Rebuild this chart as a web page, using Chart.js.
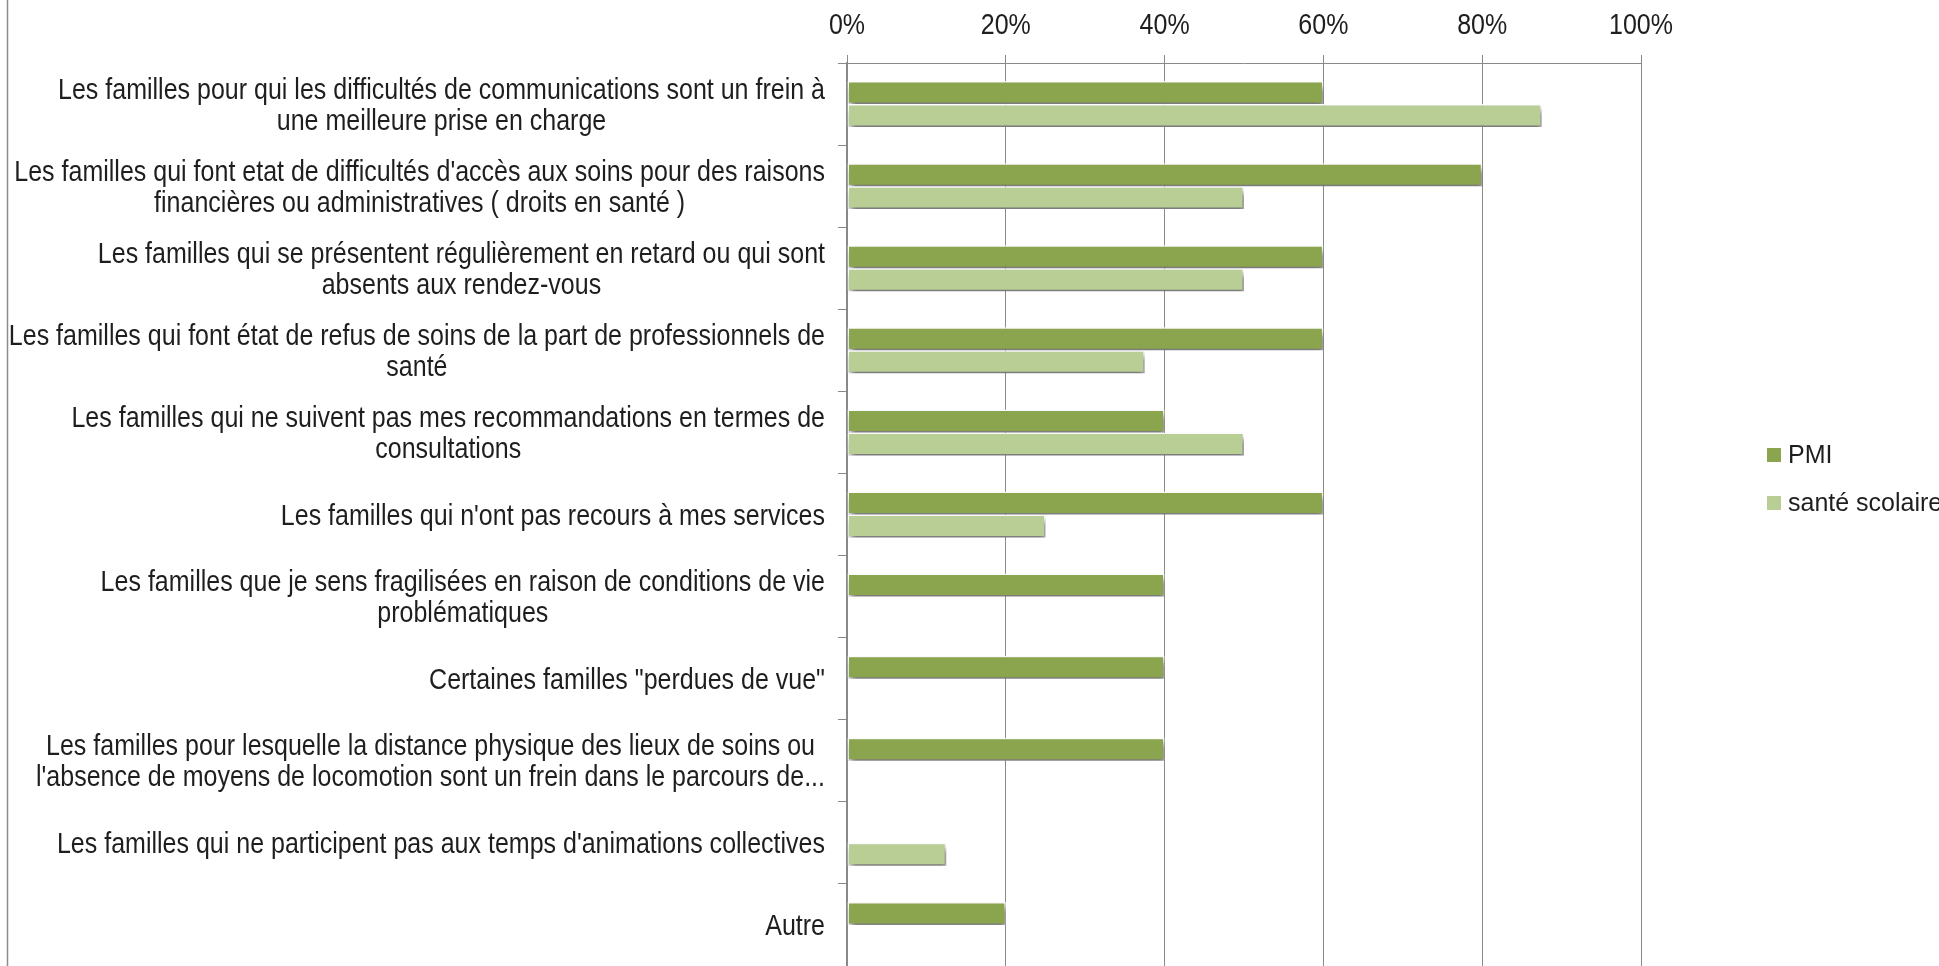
<!DOCTYPE html>
<html>
<head>
<meta charset="utf-8">
<script src="https://cdn.jsdelivr.net/npm/chart.js@4.4.1/dist/chart.umd.min.js"></script>
<style>
  html, body { margin: 0; padding: 0; background: #fff; }
  canvas { display: block; }
</style>
</head>
<body>
<canvas id="chart" width="1939" height="966"></canvas>
<script>
const categories = [
  ["Les familles pour qui les difficultés de communications sont un frein à", "une meilleure prise en charge"],
  ["Les familles qui font etat de difficultés d'accès aux soins pour des raisons", "financières ou administratives ( droits en santé )"],
  ["Les familles qui se présentent régulièrement en retard ou qui sont", "absents aux rendez-vous"],
  ["Les familles qui font état de refus de soins de la part de professionnels de", "santé"],
  ["Les familles qui ne suivent pas mes recommandations en termes de", "consultations"],
  "Les familles qui n'ont pas recours à mes services",
  ["Les familles que je sens fragilisées en raison de conditions de vie", "problématiques"],
  'Certaines familles "perdues de vue"',
  ["Les familles pour lesquelle la distance physique des lieux de soins ou", "l'absence de moyens de locomotion sont un frein dans le parcours de..."],
  "Les familles qui ne participent pas aux temps d'animations collectives",
  "Autre"
];
const pmi = [60, 80, 60, 60, 40, 60, 40, 40, 40, 0, 20];
const santeScolaire = [87.5, 50, 50, 37.5, 50, 25, 0, 0, 0, 12.5, 0];
const seriesNames = ["PMI", "santé scolaire"];
const xTicks = [0, 20, 40, 60, 80, 100];

const LABEL_FONT = '29px "Liberation Sans", Arial, sans-serif';
const TEXT = '#1e1e1e';
const GRID = '#898989';

// condensed look: squeeze the text horizontally so the first label is ~767px wide
function squeeze(ctx) {
  ctx.font = LABEL_FONT;
  return 767 / ctx.measureText(categories[0][0]).width;
}

// bar shadows like the original office chart
const shadowPlugin = {
  id: 'barShadow',
  beforeDatasetsDraw(chart) {
    const ctx = chart.ctx;
    ctx.save();
    ctx.shadowColor = 'rgba(0,0,0,0.55)';
    ctx.shadowBlur = 6;
    ctx.shadowOffsetX = 2;
    ctx.shadowOffsetY = 5;
  },
  afterDatasetsDraw(chart) {
    chart.ctx.restore();
  }
};

// axis texts: category block right-aligned with centred lines, % ticks on top
const labelPlugin = {
  id: 'axisTexts',
  afterDraw(chart) {
    const ctx = chart.ctx;
    const y = chart.scales.y;
    const x = chart.scales.x;
    ctx.save();
    const sx = squeeze(ctx);
    ctx.fillStyle = TEXT;
    ctx.textAlign = 'center';
    ctx.textBaseline = 'middle';
    chart.data.labels.forEach((lab, i) => {
      const lines = Array.isArray(lab) ? lab : [lab];
      const w = Math.max(...lines.map(l => ctx.measureText(l).width)) * sx;
      const cx = y.right - 22 - w / 2;
      const cy = y.getPixelForTick(i) + 2;
      lines.forEach((l, k) => {
        ctx.save();
        ctx.translate(cx, cy + (k - (lines.length - 1) / 2) * 31);
        ctx.scale(sx, 1);
        ctx.fillText(l, 0, 0);
        ctx.restore();
      });
    });
    xTicks.forEach(v => {
      ctx.save();
      ctx.translate(x.getPixelForValue(v), 26);
      ctx.scale(sx, 1);
      ctx.fillText(v + '%', 0, 0);
      ctx.restore();
    });
    ctx.restore();
  }
};

// legend and left frame line
const legendPlugin = {
  id: 'sideLegend',
  afterDraw(chart) {
    const ctx = chart.ctx;
    ctx.save();
    ctx.strokeStyle = '#8c8c8c';
    ctx.lineWidth = 1.5;
    ctx.beginPath();
    ctx.moveTo(7.5, 0);
    ctx.lineTo(7.5, chart.height);
    ctx.stroke();

    ctx.font = '25px "Liberation Sans", Arial, sans-serif';
    ctx.textBaseline = 'middle';
    ctx.textAlign = 'left';
    chart.data.datasets.forEach((ds, i) => {
      const yc = 455 + i * 48;
      ctx.fillStyle = ds.backgroundColor;
      ctx.fillRect(1767, yc - 7, 14, 14);
      ctx.fillStyle = TEXT;
      ctx.fillText(ds.label, 1788, yc + 1);
    });
    ctx.restore();
  }
};

new Chart(document.getElementById('chart'), {
  type: 'bar',
  data: {
    labels: categories,
    datasets: [
      {
        label: seriesNames[0],
        data: pmi,
        backgroundColor: '#8aa54e',
        borderColor: '#ffffff',
        borderWidth: 1.5,
        borderSkipped: false,
        categoryPercentage: 0.56,
        barPercentage: 1
      },
      {
        label: seriesNames[1],
        data: santeScolaire,
        backgroundColor: '#b9ce95',
        borderColor: '#ffffff',
        borderWidth: 1.5,
        borderSkipped: false,
        categoryPercentage: 0.56,
        barPercentage: 1
      }
    ]
  },
  options: {
    indexAxis: 'y',
    responsive: false,
    animation: false,
    layout: { padding: { left: 0, right: 298, top: 0, bottom: 0 } },
    plugins: {
      legend: { display: false },
      tooltip: { enabled: false }
    },
    scales: {
      x: {
        position: 'top',
        min: 0,
        max: 100,
        afterBuildTicks(scale) {
          scale.ticks = xTicks.map(v => ({ value: v }));
        },
        afterFit(scale) { scale.height = 63; },
        ticks: { display: false },
        grid: { color: GRID, lineWidth: 1, drawTicks: true, tickLength: 8, tickColor: GRID },
        border: { color: GRID, width: 1 }
      },
      y: {
        afterFit(scale) { scale.width = 847; },
        ticks: { display: false },
        grid: {
          offset: true,
          drawOnChartArea: false,
          drawTicks: true,
          tickLength: 9,
          color: GRID
        },
        border: { color: GRID, width: 1.5 }
      }
    }
  },
  plugins: [shadowPlugin, labelPlugin, legendPlugin]
});
</script>
</body>
</html>
